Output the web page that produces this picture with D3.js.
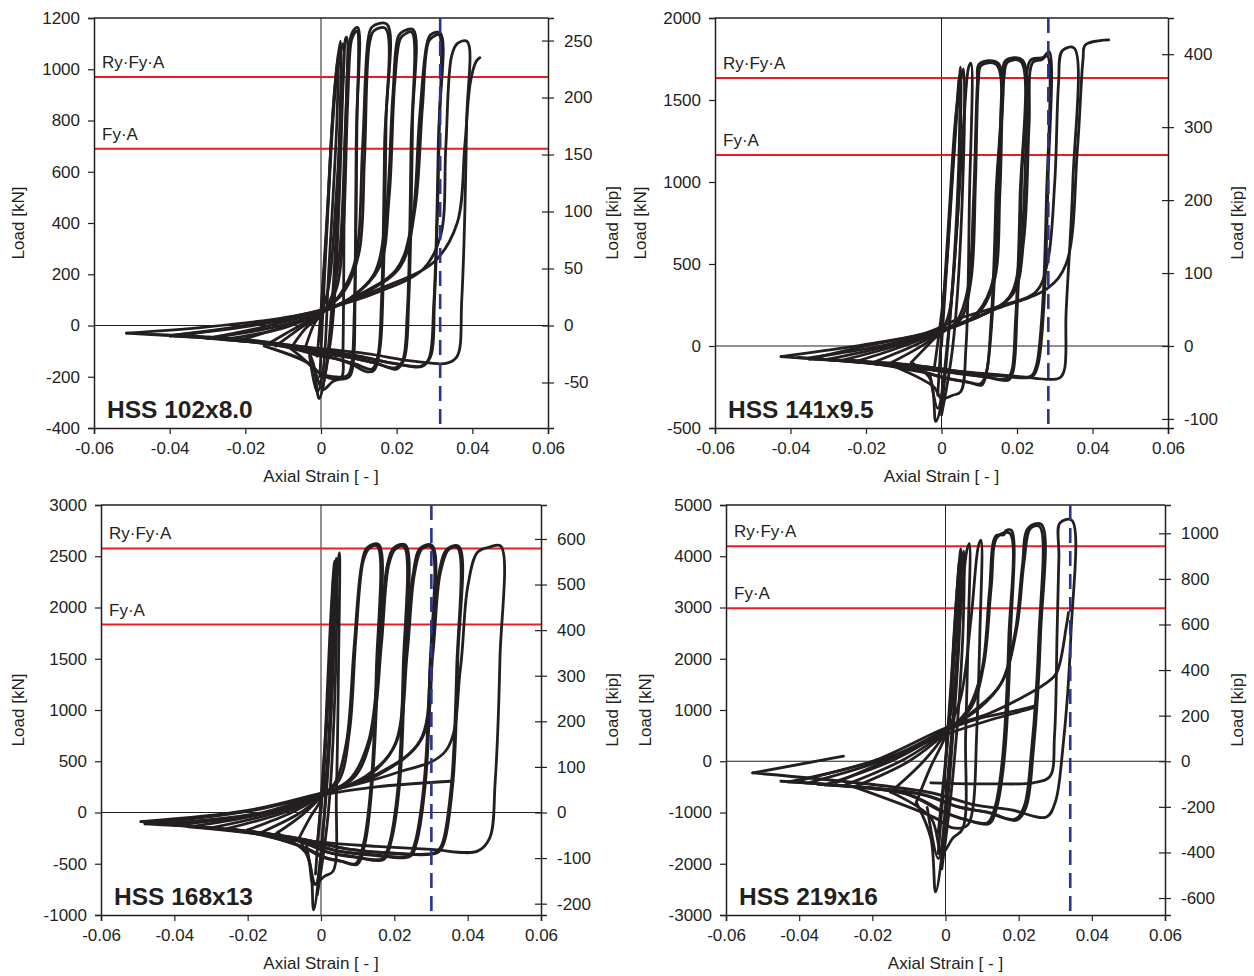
<!DOCTYPE html>
<html>
<head>
<meta charset="utf-8">
<script src="https://cdn.jsdelivr.net/npm/d3@7"></script>
<style>
  body { margin: 0; background: #fff; }
  svg { display: block; font-family: "Liberation Sans", Arial, sans-serif; }
  .tick text { font-size: 17px; fill: #231f20; }
  .domain { stroke: #231f20; stroke-width: 1.5; }
  .tick line { stroke: #231f20; stroke-width: 1.2; }
</style>
</head>
<body>
<svg id="chart" width="1254" height="976"></svg>
<script>
// specimen names
const specimens = ["HSS 102x8.0", "HSS 141x9.5", "HSS 168x13", "HSS 219x16"];

// axes
const strainTicks = [-0.06, -0.04, -0.02, 0, 0.02, 0.04, 0.06];
const loadDomains = [[-400, 1200], [-500, 2000], [-1000, 3000], [-3000, 5000]];
const kNTicks = [
  [-400, -200, 0, 200, 400, 600, 800, 1000, 1200],
  [-500, 0, 500, 1000, 1500, 2000],
  [-1000, -500, 0, 500, 1000, 1500, 2000, 2500, 3000],
  [-3000, -2000, -1000, 0, 1000, 2000, 3000, 4000, 5000]
];
const kipTicks = [
  [-50, 0, 50, 100, 150, 200, 250],
  [-100, 0, 100, 200, 300, 400],
  [-200, -100, 0, 100, 200, 300, 400, 500, 600],
  [-600, -400, -200, 0, 200, 400, 600, 800, 1000]
];
const kNperKip = 4.448;

// reference loads [kN] and strain limit
const RyFyA = [970, 1634, 2576, 4195];
const FyA = [690, 1165, 1834, 2985];
const strainLimit = [0.0315, 0.0283, 0.0301, 0.0341];

// hysteresis cycles, [axial strain, load kN]
const hss102 = [
  [[-0.0005,-60],[0.0015,400],[0.0035,900],[0.0048,1080],[0.0052,1110],[0.0048,700],[0.003,100],[0.001,-200],[-0.0005,-285],[-0.002,-150],[-0.004,-80]],
  [[-0.001,-120],[0.001,250],[0.003,800],[0.0045,1060],[0.0042,800],[0.002,200],[0.0005,-180],[-0.001,-260],[-0.003,-120]],
  [[-0.0003,-200],[0.002,500],[0.004,950],[0.0058,1100],[0.0055,800],[0.003,0],[0.0005,-240]],
  [[-0.004,-80],[-0.002,0],[0,50],[0.002,150],[0.004,500],[0.006,1000],[0.0065,1120],[0.0068,1125],[0.0062,600],[0.0058,-100],[0.0055,-200],[0.003,-220],[0.0005,-250],[-0.002,-170],[-0.008,-90]],
  [[-0.008,-90],[-0.004,-10],[0,40],[0.003,120],[0.005,300],[0.0065,800],[0.0075,1100],[0.0085,1150],[0.0097,1163],[0.0095,800],[0.009,100],[0.0085,-150],[0.0075,-200],[0.004,-210],[0,-190],[-0.003,-150],[-0.015,-80]],
  [[-0.012,-80],[-0.005,-5],[0,45],[0.004,140],[0.0058,350],[0.007,850],[0.008,1110],[0.0088,1140],[0.0095,1150],[0.0093,700],[0.0088,50],[0.008,-160],[0.007,-195],[0.003,-200],[-0.001,-180],[-0.004,-140],[-0.014,-85]],
  [[-0.015,-80],[-0.008,-20],[0,50],[0.005,120],[0.009,250],[0.011,700],[0.0125,1120],[0.0135,1165],[0.0174,1176],[0.0172,800],[0.0165,200],[0.0155,-100],[0.014,-175],[0.012,-180],[0.008,-150],[0.004,-130],[0,-120],[-0.01,-80],[-0.022,-60]],
  [[-0.022,-60],[-0.01,-5],[0,55],[0.006,130],[0.010,280],[0.0115,650],[0.0128,1100],[0.014,1150],[0.0170,1160],[0.0168,700],[0.016,100],[0.015,-120],[0.0135,-170],[0.009,-150],[0,-115],[-0.012,-75],[-0.026,-55]],
  [[-0.026,-55],[-0.01,-10],[0,50],[0.008,110],[0.014,200],[0.017,400],[0.019,900],[0.0205,1130],[0.022,1150],[0.0244,1154],[0.0242,800],[0.0232,100],[0.022,-130],[0.020,-170],[0.015,-150],[0.008,-125],[0,-110],[-0.015,-70],[-0.030,-50]],
  [[-0.030,-50],[-0.012,-5],[0,50],[0.009,120],[0.0155,230],[0.018,500],[0.0195,950],[0.021,1120],[0.0225,1140],[0.024,1145],[0.0238,700],[0.0228,50],[0.0215,-140],[0.0196,-165],[0.014,-145],[0.006,-120],[0,-105],[-0.015,-65],[-0.032,-45]],
  [[-0.030,-50],[-0.015,-5],[0,55],[0.010,120],[0.020,220],[0.024,400],[0.026,800],[0.028,1100],[0.029,1135],[0.0315,1141],[0.0313,800],[0.030,100],[0.029,-120],[0.0267,-160],[0.02,-150],[0.01,-120],[0,-100],[-0.02,-60],[-0.040,-40]],
  [[-0.040,-40],[-0.018,0],[0,55],[0.012,130],[0.021,230],[0.0248,450],[0.0268,850],[0.0285,1110],[0.030,1130],[0.0312,1135],[0.031,700],[0.0298,80],[0.0285,-130],[0.0265,-158],[0.018,-145],[0.008,-115],[0,-95],[-0.02,-55],[-0.045,-35]],
  [[-0.040,-40],[-0.02,0],[0,60],[0.015,130],[0.027,220],[0.0316,350],[0.033,700],[0.0345,1050],[0.036,1100],[0.0386,1109],[0.0385,800],[0.0372,100],[0.036,-120],[0.0333,-147],[0.025,-140],[0.012,-110],[0,-90],[-0.02,-60],[-0.0514,-30]],
  [[-0.0514,-30],[-0.03,-5],[-0.01,30],[0,60],[0.015,140],[0.030,250],[0.036,400],[0.038,700],[0.0395,950],[0.041,1030],[0.042,1045]]
];

const hss141 = [
  [[0,0],[0.002,700],[0.004,1400],[0.0051,1700],[0.0045,900],[0.002,100],[0,-350],[-0.0015,-460],[-0.003,-200],[-0.008,-100]],
  [[-0.002,-150],[0.001,400],[0.003,1100],[0.0048,1650],[0.0044,1000],[0.0015,0],[-0.001,-380],[-0.003,-180]],
  [[-0.001,-300],[0.002,800],[0.004,1450],[0.0058,1690],[0.0055,900],[0.003,0],[0,-420]],
  [[-0.008,-100],[-0.003,20],[0,90],[0.002,200],[0.004,700],[0.006,1400],[0.0072,1700],[0.0078,1724],[0.0074,900],[0.0065,0],[0.0051,-278],[0.003,-300],[0,-320],[-0.002,-250],[-0.014,-110]],
  [[-0.014,-110],[-0.006,-10],[0,80],[0.004,150],[0.007,350],[0.0085,900],[0.0095,1600],[0.010,1720],[0.0150,1724],[0.0148,1000],[0.0135,200],[0.012,-150],[0.0107,-238],[0.007,-220],[0.002,-200],[-0.005,-160],[-0.022,-90]],
  [[-0.018,-100],[-0.008,-5],[0,85],[0.005,160],[0.0078,400],[0.009,1000],[0.0098,1620],[0.0105,1710],[0.0146,1715],[0.0144,900],[0.013,100],[0.0118,-170],[0.0103,-230],[0.006,-215],[0,-190],[-0.006,-150],[-0.024,-85]],
  [[-0.022,-90],[-0.01,0],[0,90],[0.008,170],[0.013,350],[0.015,900],[0.0161,1600],[0.017,1740],[0.0214,1744],[0.0212,1000],[0.020,200],[0.019,-150],[0.0178,-207],[0.012,-190],[0.005,-170],[-0.005,-140],[-0.030,-80]],
  [[-0.026,-85],[-0.012,0],[0,95],[0.009,180],[0.0138,380],[0.0155,950],[0.0165,1620],[0.0175,1730],[0.021,1735],[0.0208,900],[0.0196,150],[0.0185,-160],[0.0172,-200],[0.011,-185],[0.004,-165],[-0.006,-135],[-0.034,-75]],
  [[-0.030,-80],[-0.015,-5],[0,100],[0.01,180],[0.018,300],[0.021,600],[0.0225,1300],[0.0235,1740],[0.026,1756],[0.027,1760],[0.0285,1795],[0.0282,1000],[0.027,200],[0.0255,-120],[0.024,-187],[0.015,-180],[0.005,-160],[-0.005,-130],[-0.0425,-65]],
  [[-0.036,-75],[-0.015,5],[0,100],[0.011,190],[0.019,320],[0.0218,650],[0.0232,1350],[0.0242,1730],[0.0265,1745],[0.028,1770],[0.0278,900],[0.0265,150],[0.025,-130],[0.0236,-185],[0.015,-175],[0.005,-155],[-0.005,-125],[-0.038,-70]],
  [[-0.0425,-65],[-0.02,10],[-0.004,80],[0.005,170],[0.015,240],[0.025,330],[0.028,500],[0.030,1000],[0.031,1600],[0.032,1800],[0.0351,1817],[0.0348,1000],[0.033,200],[0.0325,-150],[0.0311,-197],[0.02,-185],[0.008,-165],[0,-140],[-0.01,-110],[-0.035,-80]],
  [[-0.035,-80],[-0.02,0],[0,100],[0.015,230],[0.028,350],[0.033,500],[0.036,1200],[0.0375,1750],[0.0381,1835],[0.0443,1866]]
];

const hss168 = [
  [[0,0],[0.001,600],[0.0025,1800],[0.0037,2452],[0.0033,1400],[0.0015,300],[0,-400],[-0.002,-950],[-0.003,-500],[-0.006,-250]],
  [[-0.001,-300],[0.001,500],[0.0025,1600],[0.0035,2350],[0.003,1200],[0.001,0],[-0.0015,-700],[-0.004,-300]],
  [[-0.0015,-600],[0.0015,900],[0.003,1900],[0.0042,2480],[0.004,1400],[0.002,0],[-0.001,-800]],
  [[-0.006,-250],[-0.003,-50],[0,130],[0.0015,400],[0.003,1500],[0.0045,2400],[0.005,2536],[0.0048,1500],[0.0042,200],[0.0033,-572],[0.001,-620],[-0.002,-700],[-0.004,-400],[-0.012,-200]],
  [[-0.012,-200],[-0.005,-20],[0,150],[0.004,300],[0.007,700],[0.009,1600],[0.011,2400],[0.0125,2580],[0.0157,2615],[0.0155,1500],[0.014,300],[0.012,-300],[0.0098,-507],[0.006,-480],[0.002,-450],[-0.004,-350],[-0.020,-170]],
  [[-0.016,-190],[-0.006,-10],[0,155],[0.005,320],[0.0078,800],[0.0095,1700],[0.0115,2450],[0.013,2570],[0.0153,2600],[0.0151,1400],[0.0136,250],[0.0115,-320],[0.0094,-500],[0.005,-470],[0,-430],[-0.006,-320],[-0.024,-160]],
  [[-0.020,-170],[-0.008,0],[0,160],[0.008,330],[0.013,700],[0.016,1600],[0.018,2400],[0.0198,2580],[0.023,2610],[0.0228,1500],[0.0215,300],[0.019,-300],[0.0171,-459],[0.01,-440],[0.003,-400],[-0.006,-280],[-0.030,-150]],
  [[-0.026,-160],[-0.010,0],[0,165],[0.009,340],[0.0138,750],[0.0165,1650],[0.0185,2420],[0.0203,2570],[0.0226,2595],[0.0224,1400],[0.021,250],[0.0185,-320],[0.0167,-450],[0.009,-430],[0.002,-390],[-0.007,-270],[-0.036,-140]],
  [[-0.030,-150],[-0.012,0],[0,170],[0.012,350],[0.020,650],[0.023,1500],[0.025,2300],[0.0271,2580],[0.0303,2605],[0.030,1500],[0.0285,300],[0.026,-300],[0.0244,-426],[0.015,-420],[0.005,-380],[-0.008,-250],[-0.040,-120]],
  [[-0.036,-140],[-0.014,0],[0,175],[0.013,360],[0.0205,680],[0.0235,1550],[0.0255,2330],[0.0275,2570],[0.030,2590],[0.0297,1400],[0.028,250],[0.0255,-310],[0.024,-420],[0.014,-410],[0.004,-370],[-0.009,-240],[-0.044,-110]],
  [[-0.040,-120],[-0.015,0],[0,180],[0.015,370],[0.027,700],[0.030,1500],[0.032,2300],[0.0344,2570],[0.0376,2595],[0.0373,1500],[0.036,300],[0.0335,-300],[0.0317,-393],[0.02,-400],[0.008,-360],[-0.008,-240],[-0.0491,-89]],
  [[-0.044,-110],[-0.016,0],[0,185],[0.016,375],[0.0275,720],[0.0305,1550],[0.0325,2330],[0.0348,2565],[0.0372,2585],[0.037,1400],[0.0355,250],[0.033,-310],[0.0312,-390],[0.019,-395],[0.007,-355],[-0.009,-235],[-0.047,-95]],
  [[-0.0491,-89],[-0.02,20],[0,190],[0.02,380],[0.034,600],[0.038,1400],[0.040,2200],[0.0427,2540],[0.046,2590],[0.049,2600],[0.0488,1500],[0.0475,300],[0.046,-250],[0.0427,-377],[0.03,-360],[0.015,-330],[0,-290],[-0.02,-180],[-0.048,-110]],
  [[-0.048,-110],[-0.02,10],[0,170],[0.015,250],[0.0353,305]]
];

const hss219 = [
  [[0,0],[0.0015,1500],[0.003,3200],[0.0042,4150],[0.0038,2500],[0.002,500],[0,-1200],[-0.0027,-2550],[-0.004,-1500],[-0.008,-800]],
  [[-0.002,-1400],[0.001,800],[0.0025,2600],[0.0038,3900],[0.0034,2200],[0.001,0],[-0.002,-1900],[-0.005,-900]],
  [[-0.002,-1800],[0.0015,1200],[0.0035,3000],[0.005,4100],[0.0047,2400],[0.002,-300],[-0.001,-2100]],
  [[-0.008,-800],[-0.004,-100],[0,500],[0.002,1200],[0.004,2800],[0.0058,4100],[0.0065,4247],[0.0062,2500],[0.0055,500],[0.0047,-1314],[0.002,-1500],[-0.001,-1800],[-0.004,-1100],[-0.015,-600]],
  [[-0.015,-600],[-0.006,0],[0,550],[0.004,1200],[0.007,2800],[0.009,4200],[0.0097,4312],[0.0094,2500],[0.0085,500],[0.0075,-900],[0.006,-1250],[0.002,-1300],[-0.003,-1100],[-0.025,-500]],
  [[-0.025,-500],[-0.01,0],[0,550],[0.006,1000],[0.010,1800],[0.012,3300],[0.0138,4400],[0.016,4420],[0.0165,4500],[0.018,4507],[0.0178,2500],[0.016,0],[0.014,-900],[0.012,-1216],[0.006,-1150],[0,-1000],[-0.01,-650],[-0.033,-460]],
  [[-0.028,-480],[-0.011,50],[0,580],[0.007,1050],[0.0105,1900],[0.0125,3400],[0.0142,4380],[0.0175,4450],[0.0173,2400],[0.0155,0],[0.0135,-900],[0.0115,-1200],[0.005,-1130],[-0.001,-980],[-0.011,-630],[-0.035,-450]],
  [[-0.033,-460],[-0.015,0],[0,600],[0.008,1000],[0.015,1500],[0.019,2500],[0.021,3800],[0.0226,4550],[0.0262,4624],[0.026,2500],[0.024,200],[0.022,-900],[0.0194,-1151],[0.012,-1000],[0.004,-900],[-0.006,-650],[-0.043,-404]],
  [[-0.038,-430],[-0.016,50],[0,620],[0.009,1020],[0.0155,1550],[0.0195,2600],[0.0215,3900],[0.0232,4540],[0.0257,4580],[0.0255,2400],[0.0235,200],[0.0215,-880],[0.019,-1130],[0.011,-990],[0.003,-880],[-0.007,-640],[-0.045,-390]],
  [[-0.004,-420],[0.012,-440],[0.024,-420],[0.0285,-300],[0.0298,500],[0.0305,2500],[0.031,4000],[0.0313,4650],[0.0345,4702],[0.0343,2500],[0.032,200],[0.030,-800],[0.0276,-1087],[0.018,-950],[0.008,-850],[-0.005,-600],[-0.0527,-228]],
  [[-0.043,-404],[-0.02,0],[0,650],[0.012,936],[0.0212,1255],[0.027,1500],[0.0303,1717],[0.033,2620],[0.0336,2900]],
  [[-0.030,-420],[-0.012,150],[0,600],[0.010,850],[0.020,1000],[0.0249,1093]],
  [[-0.040,-380],[-0.015,100],[0,520],[0.012,800],[0.022,1000],[0.0249,1060]],
  [[-0.0527,-228],[-0.0279,98]]
];

const cycles = [hss102, hss141, hss168, hss219];

// panel frames (pixel positions)
const layout = [
  {left: 94, right: 548, top: 18, bottom: 428, kNx: 24, kipx: 618},
  {left: 715, right: 1168, top: 18, bottom: 428, kNx: 646, kipx: 1243},
  {left: 101, right: 541, top: 505, bottom: 915, kNx: 24, kipx: 618},
  {left: 726, right: 1165, top: 505, bottom: 915, kNx: 651, kipx: 1243}
];

const svg = d3.select('#chart');
const ink = '#231f20';
const fmt = d => d === 0 ? '0' : String(d);

specimens.forEach((name, i) => drawPanel(i));

function drawPanel(i) {
    const L = layout[i];
    const g = svg.append('g');

    const x = d3.scaleLinear().domain([-0.06, 0.06]).range([L.left, L.right]);
    const y = d3.scaleLinear().domain(loadDomains[i]).range([L.bottom, L.top]);
    const yKip = d3.scaleLinear()
        .domain(loadDomains[i].map(v => v / kNperKip))
        .range([L.bottom, L.top]);

    const clipId = 'clip' + i;
    g.append('clipPath').attr('id', clipId)
        .append('rect')
        .attr('x', L.left).attr('y', L.top)
        .attr('width', L.right - L.left).attr('height', L.bottom - L.top);

    // top border
    g.append('line')
        .attr('x1', L.left).attr('x2', L.right)
        .attr('y1', L.top).attr('y2', L.top)
        .attr('stroke', ink).attr('stroke-width', 1.5);

    // zero lines
    g.append('line')
        .attr('x1', x(0)).attr('x2', x(0))
        .attr('y1', L.top).attr('y2', L.bottom)
        .attr('stroke', ink).attr('stroke-width', 1);
    g.append('line')
        .attr('x1', L.left).attr('x2', L.right)
        .attr('y1', y(0)).attr('y2', y(0))
        .attr('stroke', ink).attr('stroke-width', 1);

    // reference loads
    [[RyFyA[i], 'Ry\u00b7Fy\u00b7A'], [FyA[i], 'Fy\u00b7A']].forEach(([v, label]) => {
        g.append('line')
            .attr('x1', L.left).attr('x2', L.right)
            .attr('y1', y(v)).attr('y2', y(v))
            .attr('stroke', '#ed1c24').attr('stroke-width', 2);
        g.append('text')
            .attr('x', L.left + 8).attr('y', y(v) - 9)
            .attr('font-size', 17).attr('fill', ink)
            .text(label);
    });

    // hysteresis
    const line = d3.line()
        .x(d => x(d[0]))
        .y(d => y(d[1]))
        .curve(d3.curveCatmullRom.alpha(0.5));
    g.append('g').attr('clip-path', `url(#${clipId})`)
        .selectAll('path')
        .data(cycles[i])
        .join('path')
        .attr('d', line)
        .attr('fill', 'none')
        .attr('stroke', ink)
        .attr('stroke-width', 2.8)
        .attr('stroke-linejoin', 'round')
        .attr('stroke-linecap', 'round');

    // strain limit
    g.append('line')
        .attr('x1', x(strainLimit[i])).attr('x2', x(strainLimit[i]))
        .attr('y1', L.top).attr('y2', L.bottom)
        .attr('stroke', '#283593').attr('stroke-width', 2.6)
        .attr('stroke-dasharray', '15,8');

    // axes
    g.append('g')
        .attr('transform', `translate(0,${L.bottom})`)
        .call(d3.axisBottom(x).tickValues(strainTicks).tickSize(6).tickPadding(8)
            .tickFormat(d => d === 0 ? '0' : d.toFixed(2)));
    g.append('g')
        .attr('transform', `translate(${L.left},0)`)
        .call(d3.axisLeft(y).tickValues(kNTicks[i]).tickSize(6).tickPadding(8).tickFormat(fmt));
    const right = g.append('g')
        .attr('transform', `translate(${L.right},0)`)
        .call(d3.axisRight(yKip).tickValues(kipTicks[i]).tickSize(6).tickPadding(10).tickFormat(fmt));
    right.selectAll('.tick line').attr('x1', -6);
    g.selectAll('.domain').attr('stroke', ink);

    // titles
    g.append('text')
        .attr('x', (L.left + L.right) / 2).attr('y', L.bottom + 54)
        .attr('text-anchor', 'middle').attr('font-size', 17).attr('fill', ink)
        .text('Axial Strain [ - ]');
    g.append('text')
        .attr('transform', `translate(${L.kNx},${(L.top + L.bottom) / 2}) rotate(-90)`)
        .attr('text-anchor', 'middle').attr('font-size', 17).attr('fill', ink)
        .text('Load [kN]');
    g.append('text')
        .attr('transform', `translate(${L.kipx},${(L.top + L.bottom) / 2}) rotate(-90)`)
        .attr('text-anchor', 'middle').attr('font-size', 17).attr('fill', ink)
        .text('Load [kip]');

    g.append('text')
        .attr('x', L.left + 13).attr('y', L.bottom - 10)
        .attr('font-size', 24.5).attr('font-weight', 'bold').attr('fill', ink)
        .text(specimens[i]);
}
</script>
</body>
</html>
